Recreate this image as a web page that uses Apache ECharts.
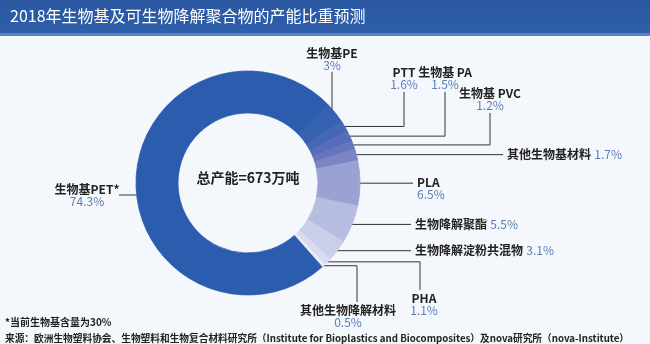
<!DOCTYPE html>
<html>
<head>
<meta charset="utf-8">
<script src="https://cdn.jsdelivr.net/npm/echarts@6/dist/echarts.min.js"></script>
<style>
html,body{margin:0;padding:0;background:#f4f7fb;}
#chart{width:650px;height:344px;}
</style>
</head>
<body>
<div id="chart"></div>
<script>
// ---- data ----
const titleText = '2018年生物基及可生物降解聚合物的产能比重预测';
const centerText = '总产能=673万吨';
const categories = ['生物基PE', 'PTT', '生物基 PA', '生物基 PVC', '其他生物基材料', 'PLA', '生物降解聚酯', '生物降解淀粉共混物', 'PHA', '其他生物降解材料', '生物基PET*'];
const shares = [3, 1.6, 1.5, 1.2, 1.7, 6.5, 5.5, 3.1, 1.1, 0.5, 74.3];
const footnote = '*当前生物基含量为30%';
const sourceText = '来源：欧洲生物塑料协会、生物塑料和生物复合材料研究所（Institute for Bioplastics and Biocomposites）及nova研究所（nova-Institute）';

// ---- styling / layout ----
const colors = ['#3761b1', '#4767b5', '#566eb9', '#6676be', '#7b84c4', '#99a2d2', '#b6bde0', '#c9cee9', '#d9dcf0', '#eceef7', '#2c5cae'];
const CX = 248, CY = 183, R_IN = 70, R_OUT = 112;
const inlineIdx = new Set([4, 6, 7]);
const labelPos = [
  {mode: 'vert', x: 332, y: 47},
  {mode: 'up', x: 404, y: 66},
  {mode: 'up', x: 445, y: 66},
  {mode: 'up', x: 490, y: 87},
  {mode: 'inline', x: 507},
  {mode: 'left2', x: 417},
  {mode: 'inline', x: 415},
  {mode: 'inline', x: 415},
  {mode: 'down', x: 420, y: 292, tx: 424},
  {mode: 'down', x: 357, y: 304, tx: 348},
  {mode: 'left', x: 119, lineY: 195, tx: 87}
];
const FONT = '"Noto Sans CJK SC", "Noto Sans", sans-serif';

function ringX(y, side) {
  const d = Math.sqrt(Math.max(0, R_OUT * R_OUT - (y - CY) * (y - CY)));
  return side < 0 ? CX - d : CX + d;
}
function ringTop(x) {
  const d = Math.sqrt(Math.max(0, R_OUT * R_OUT - (x - CX) * (x - CX)));
  return CY - d;
}

const chart = echarts.init(document.getElementById('chart'), null, {renderer: 'canvas'});
const option = {
  backgroundColor: '#f4f7fb',
  animation: false,
  title: {
    text: titleText, left: 5, top: 3,
    textStyle: {color: '#ffffff', fontSize: 16, fontWeight: 'normal', fontFamily: FONT}
  },
  graphic: [
    {type: 'rect', z: -1, shape: {x: 0, y: 0, width: 650, height: 33},
      style: {fill: new echarts.graphic.LinearGradient(0, 0, 0, 1, [{offset: 0, color: '#2a57a0'}, {offset: 1, color: '#2f5fab'}])}},
    {type: 'rect', z: -1, shape: {x: 0, y: 33, width: 650, height: 3}, style: {fill: '#5a84c6'}},
    {type: 'text', left: 5, top: 317, style: {text: footnote, fill: '#222', font: 'bold 10px ' + FONT}},
    {type: 'text', left: 5, top: 333, style: {text: sourceText, fill: '#222', font: 'bold 9.7px ' + FONT}},
    {type: 'text', x: CX, y: 178, style: {text: centerText, fill: '#222', font: 'bold 14px ' + FONT, align: 'center', verticalAlign: 'middle'}}
  ],
  series: [{
    type: 'pie',
    center: [CX, CY],
    radius: [R_IN, R_OUT],
    startAngle: 44,
    clockwise: true,
    avoidLabelOverlap: false,
    emphasis: {disabled: true},
    data: categories.map((n, i) => ({name: n, value: shares[i],
      itemStyle: {color: colors[i], borderColor: colors[i], borderWidth: 0.8}})),
    label: {
      show: true,
      position: 'outside',
      formatter: p => inlineIdx.has(p.dataIndex)
        ? '{n|' + p.name + '} {v|' + p.value + '%}'
        : '{n|' + p.name + '}\n{v|' + p.value + '%}',
      rich: {
        n: {fontSize: 12, fontWeight: 'bold', color: '#222', fontFamily: FONT, lineHeight: 12},
        v: {fontSize: 12, color: '#5b7db5', fontFamily: FONT, lineHeight: 12}
      }
    },
    labelLine: {show: true, smooth: false, lineStyle: {color: '#333', width: 1}},
    labelLayout: function (params) {
      const c = labelPos[params.dataIndex];
      const p0 = params.labelLinePoints && params.labelLinePoints[0];
      let x0 = p0 ? p0[0] : CX, y0 = p0 ? p0[1] : CY;
      if (c.mode === 'vert') {
        return {x: c.x, y: c.y, align: 'center', verticalAlign: 'top',
          labelLinePoints: [[c.x, ringTop(c.x) + 4], [c.x, c.y + 25], [c.x, c.y + 25]]};
      }
      if (c.mode === 'up') {
        return {x: c.x, y: c.y, align: 'center', verticalAlign: 'top',
          labelLinePoints: [[x0, y0], [c.x, y0], [c.x, c.y + 26]]};
      }
      if (c.mode === 'inline') {
        return {x: c.x, y: y0, align: 'left', verticalAlign: 'middle',
          labelLinePoints: [[x0, y0], [c.x - 4, y0], [c.x - 4, y0]]};
      }
      if (c.mode === 'left2') {
        return {x: c.x, y: y0 - 7, align: 'left', verticalAlign: 'top',
          labelLinePoints: [[x0, y0], [c.x - 4, y0], [c.x - 4, y0]]};
      }
      if (c.mode === 'down') {
        return {x: c.tx, y: c.y, align: 'center', verticalAlign: 'top',
          labelLinePoints: [[x0, y0], [c.x, y0], [c.x, c.y - 2]]};
      }
      if (c.mode === 'left') {
        const ly = c.lineY;
        return {x: c.tx, y: ly, align: 'center', verticalAlign: 'middle',
          labelLinePoints: [[ringX(ly, -1), ly], [c.x, ly], [c.x, ly]]};
      }
      return {};
    }
  }]
};
chart.setOption(option);
</script>
</body>
</html>
